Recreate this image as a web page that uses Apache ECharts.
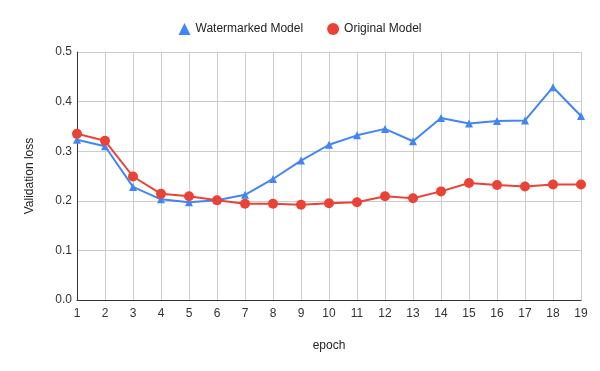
<!DOCTYPE html>
<html><head><meta charset="utf-8">
<script src="https://cdn.jsdelivr.net/npm/echarts@6/dist/echarts.min.js"></script>
<style>html,body{margin:0;padding:0;background:#fff}#c{width:600px;height:371px}</style>
</head><body><div id="c"></div>
<script>
var epochs = ['1','2','3','4','5','6','7','8','9','10','11','12','13','14','15','16','17','18','19'];
var watermarked = [0.323,0.310,0.228,0.203,0.197,0.201,0.212,0.244,0.281,0.313,0.332,0.345,0.320,0.367,0.356,0.361,0.362,0.429,0.371];
var original = [0.335,0.321,0.249,0.214,0.209,0.201,0.194,0.194,0.192,0.195,0.197,0.209,0.205,0.219,0.236,0.232,0.229,0.233,0.233];
var yTicks = [0, 0.1, 0.2, 0.3, 0.4, 0.5];

var chart = echarts.init(document.getElementById('c'), null, {renderer: 'canvas'});
var font = 'Arial, "Liberation Sans", sans-serif';
chart.setOption({
  animation: false,
  textStyle: {fontFamily: font},
  legend: {
    top: 18, left: 'center', itemGap: 24, itemWidth: 12, itemHeight: 12,
    textStyle: {fontSize: 12, color: '#222', fontFamily: font},
    data: [{name: 'Watermarked Model', icon: 'triangle'}, {name: 'Original Model', icon: 'circle'}]
  },
  grid: {left: 77, right: 19, top: 52, bottom: 71},
  xAxis: {
    type: 'category', data: epochs, boundaryGap: false,
    name: 'epoch', nameLocation: 'middle', nameGap: 40,
    nameTextStyle: {fontSize: 12, color: '#222', fontFamily: font},
    axisLine: {lineStyle: {color: '#333', width: 1}},
    axisTick: {show: false},
    axisLabel: {fontSize: 12, color: '#333', margin: 8, fontFamily: font},
    splitLine: {show: true, lineStyle: {color: '#ccc', width: 1}}
  },
  yAxis: {
    type: 'value', min: yTicks[0], max: yTicks[yTicks.length-1], interval: 0.1,
    name: 'Validation loss', nameLocation: 'middle', nameGap: 41,
    nameTextStyle: {fontSize: 12, color: '#222', fontFamily: font},
    axisLine: {show: true, lineStyle: {color: '#333', width: 1}},
    axisTick: {show: false},
    axisLabel: {fontSize: 12, color: '#333', margin: 5, fontFamily: font, formatter: function(v){return v.toFixed(1);}},
    splitLine: {show: true, lineStyle: {color: '#ccc', width: 1}}
  },
  series: [
    {name: 'Watermarked Model', type: 'line', data: watermarked, symbol: 'triangle', symbolSize: 8,
     itemStyle: {color: '#4285F4'}, lineStyle: {color: '#4285F4', width: 2}},
    {name: 'Original Model', type: 'line', data: original, symbol: 'circle', symbolSize: 10,
     itemStyle: {color: '#EA4335'}, lineStyle: {color: '#EA4335', width: 2}}
  ]
});
</script></body></html>
